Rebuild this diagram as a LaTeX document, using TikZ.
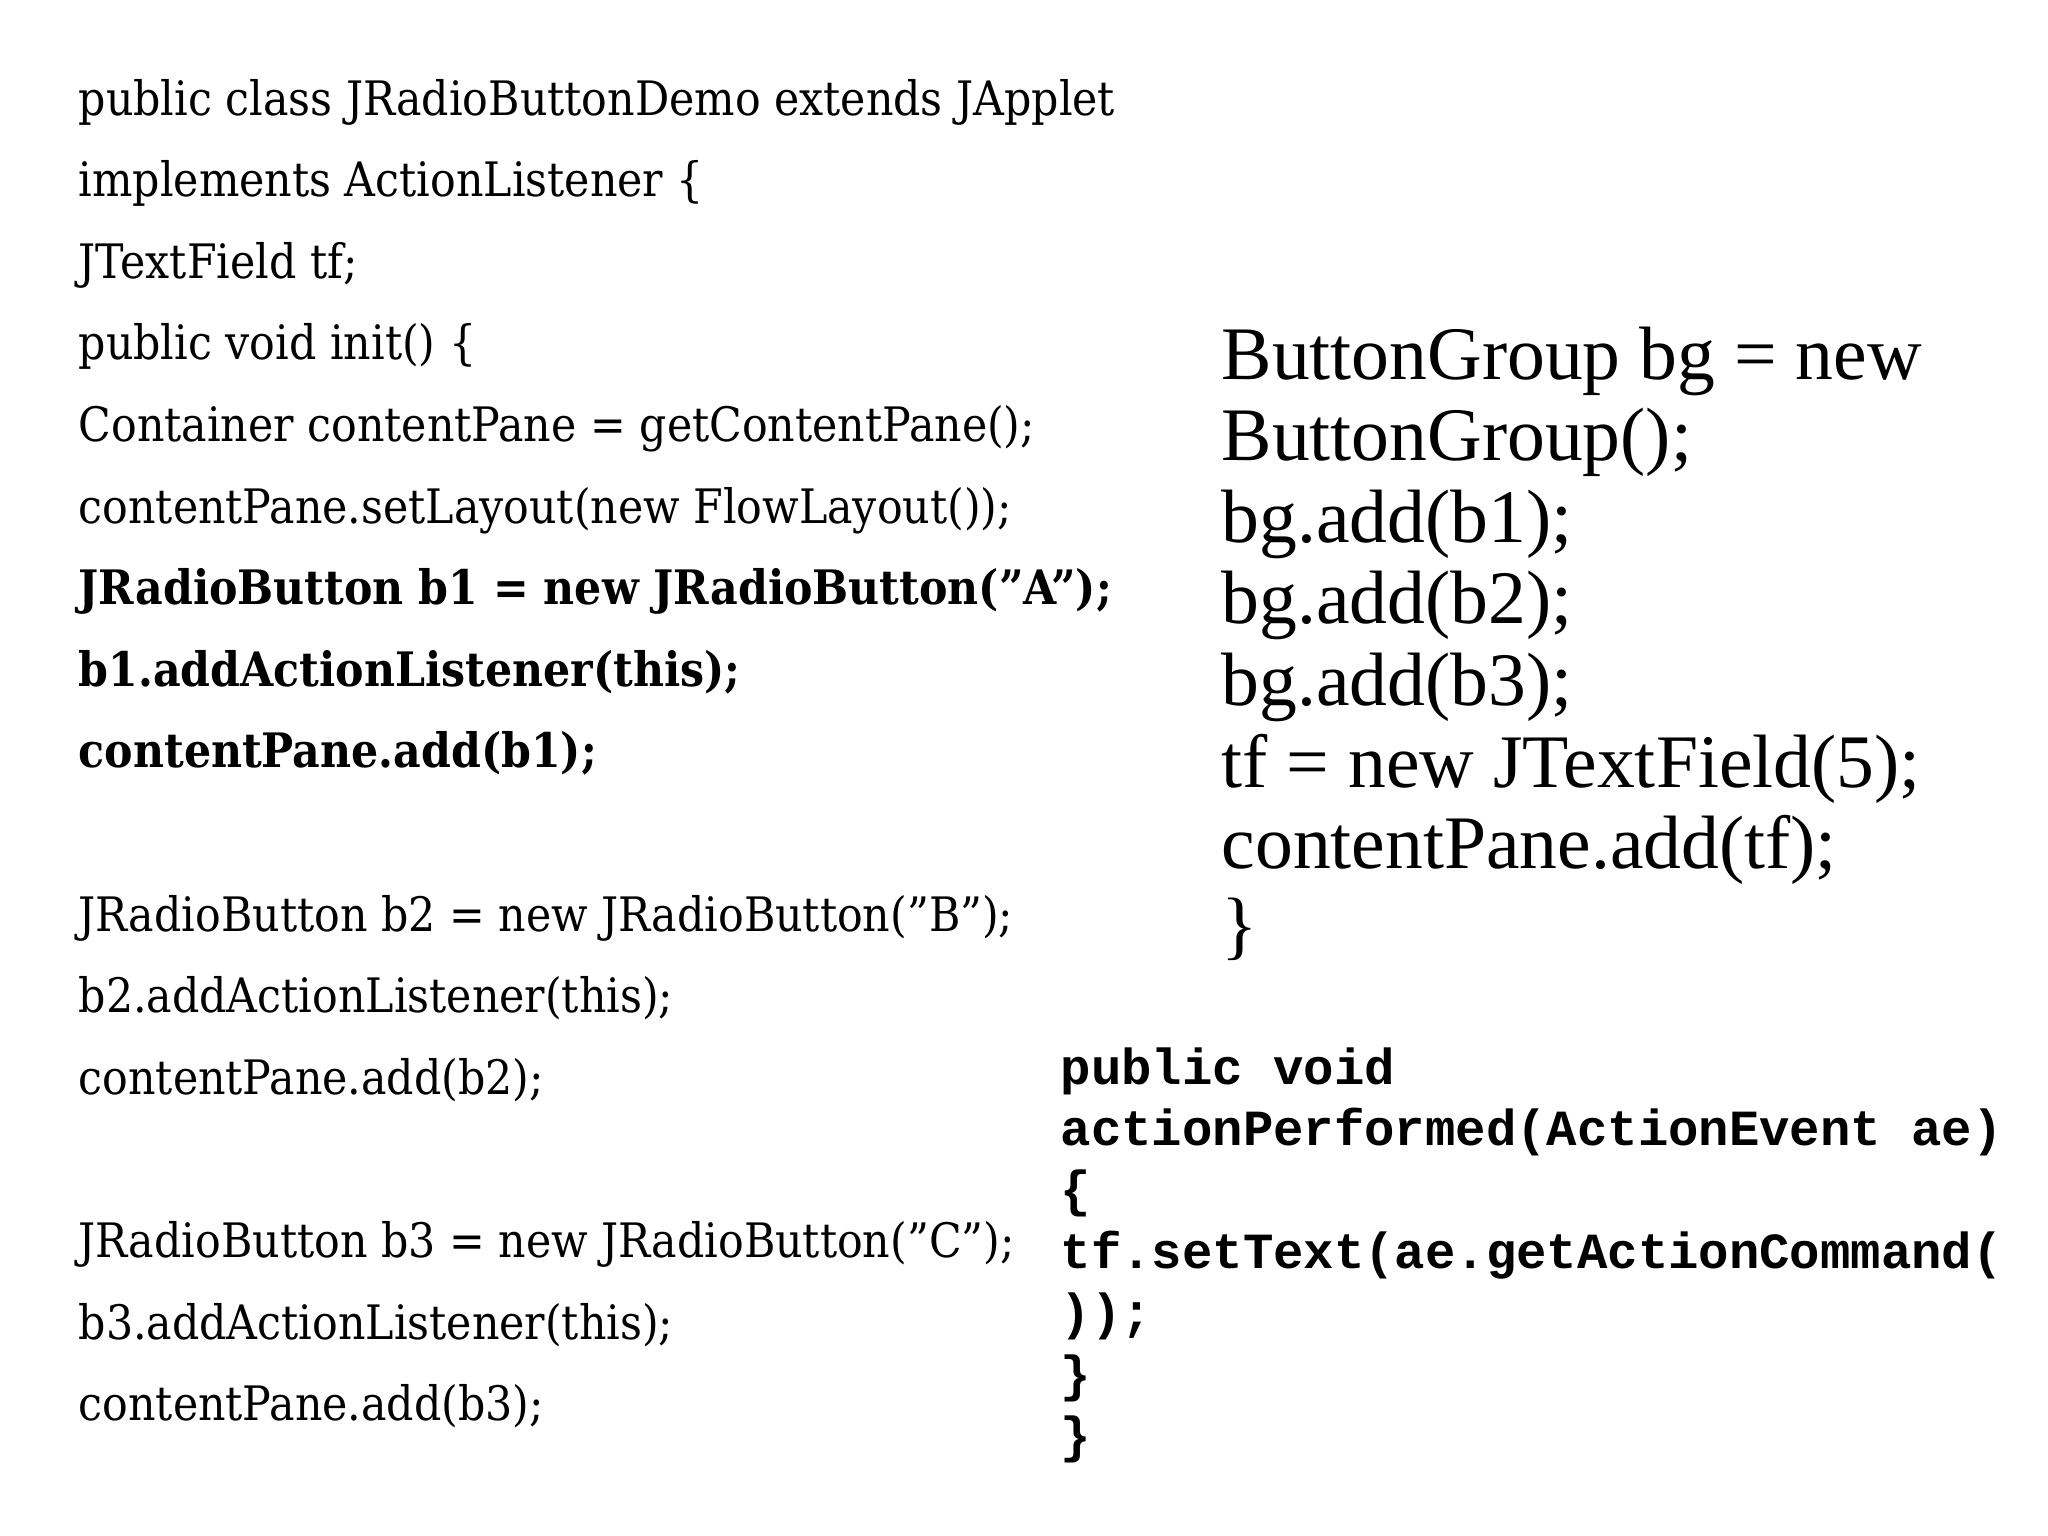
\documentclass[tikz,border=0pt]{standalone}
\usepackage{fontspec}
\setmainfont{DejaVu Serif Condensed}
\newfontfamily\tms{Liberation Serif}
\newfontfamily\mono{Liberation Mono}
\begin{document}
\begin{tikzpicture}[x=0.01cm,y=-0.01cm]
\useasboundingbox (0,0) rectangle (2048,1536);
\tikzset{lt/.style={anchor=base west,inner sep=0pt,font=\fontsize{13.5pt}{16pt}\selectfont},
rt/.style={anchor=base west,inner sep=0pt,font=\tms\fontsize{21.5pt}{25pt}\selectfont},
mt/.style={anchor=base west,inner sep=0pt,font=\mono\bfseries\fontsize{14.4pt}{17pt}\selectfont}}
\def\L#1#2#3{\node[lt] (l#1) at (78,{115+81.6*#2}) {#3};}
\L{1}{0}{public class JRadioButtonDemo extends JApplet}
\L{2}{1}{implements ActionListener \{}
\L{3}{2}{JTextField tf;}
\L{4}{3}{public void init() \{}
\L{5}{4}{Container contentPane = getContentPane();}
\L{6}{5}{contentPane.setLayout(new FlowLayout());}
\L{7}{6}{\bfseries JRadioButton b1 = new JRadioButton("A");}
\L{8}{7}{\bfseries b1.addActionListener(this);}
\L{9}{8}{\bfseries contentPane.add(b1);}
\L{10}{10}{JRadioButton b2 = new JRadioButton("B");}
\L{11}{11}{b2.addActionListener(this);}
\L{12}{12}{contentPane.add(b2);}
\L{13}{14}{JRadioButton b3 = new JRadioButton("C");}
\L{14}{15}{b3.addActionListener(this);}
\L{15}{16}{contentPane.add(b3);}
\def\R#1#2#3{\node[rt] (r#1) at (1221,{379+81.6*#2}) {#3};}
\R{1}{0}{ButtonGroup bg = new}
\R{2}{1}{ButtonGroup();}
\R{3}{2}{bg.add(b1);}
\R{4}{3}{bg.add(b2);}
\R{5}{4}{bg.add(b3);}
\R{6}{5}{tf = new JTextField(5);}
\R{7}{6}{contentPane.add(tf);}
\R{8}{7}{\}}
\def\M#1#2#3{\node[mt] (m#1) at (1060,{1084+61.4*#2}) {#3};}
\M{1}{0}{public void}
\M{2}{1}{actionPerformed(ActionEvent ae)}
\M{3}{2}{\{}
\M{4}{3}{tf.setText(ae.getActionCommand(}
\M{5}{4}{));}
\M{6}{5}{\}}
\M{7}{6}{\}}
\end{tikzpicture}
\end{document}
